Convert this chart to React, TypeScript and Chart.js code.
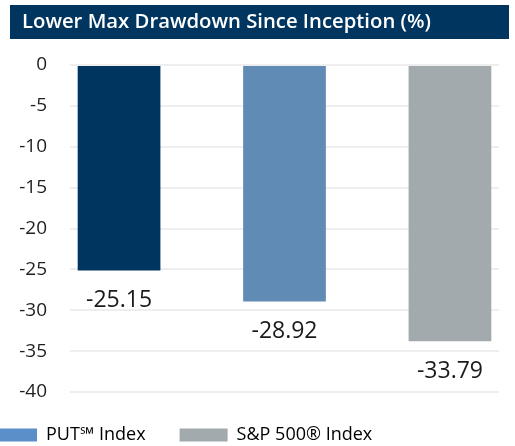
import { useEffect, useRef } from 'react';
import { Chart, registerables } from 'chart.js';

Chart.register(...registerables);

const TITLE = 'Lower Max Drawdown Since Inception (%)';
const CATEGORIES = ['Max Drawdown'];
const SERIES_NAMES = ['Fund', 'PUT℠ Index', 'S&P 500® Index'];
const SERIES_VALUES = [-25.15, -28.92, -33.79];
const SERIES_COLORS = ['#00355f', '#5f8bb5', '#a2aaad'];
const LEGEND_COLORS = ['#00355f', '#5b8fc9', '#a2aaad'];
const LEGEND_SHOWN = [false, true, true];
const Y_MIN = -40;
const Y_MAX = 0;
const Y_STEP = 5;

const FONT = '"Open Sans", "Noto Sans", sans-serif';
const NAVY = '#00355f';

// canvas is shifted left so the (cropped) legend starts outside the view
const SHIFT = 45;
const CANVAS_W = 560;
const CANVAS_H = 454;

const bannerPlugin = {
  id: 'banner',
  beforeDraw(chart: any) {
    const ctx = chart.ctx;
    ctx.save();
    ctx.fillStyle = NAVY;
    ctx.fillRect(SHIFT + 10, 5, 499, 34);
    ctx.fillStyle = '#ffffff';
    ctx.font = `600 20.3px ${FONT}`;
    ctx.textAlign = 'left';
    ctx.textBaseline = 'middle';
    ctx.fillText(TITLE, SHIFT + 22, 22.5);
    ctx.restore();
  },
};

const valueLabelPlugin = {
  id: 'valueLabels',
  afterDatasetsDraw(chart: any) {
    const ctx = chart.ctx;
    ctx.save();
    ctx.fillStyle = '#1a1a1a';
    ctx.font = `23px ${FONT}`;
    ctx.textAlign = 'center';
    ctx.textBaseline = 'middle';
    chart.data.datasets.forEach((ds: any, i: number) => {
      const meta = chart.getDatasetMeta(i);
      meta.data.forEach((bar: any, j: number) => {
        const v = ds.data[j] as number;
        ctx.fillText(v.toFixed(2), bar.x, bar.y + 30);
      });
    });
    ctx.restore();
  },
};

export default function App() {
  const ref = useRef<HTMLCanvasElement | null>(null);

  useEffect(() => {
    if (!ref.current) return;
    const chart = new Chart(ref.current, {
      type: 'bar',
      data: {
        labels: CATEGORIES,
        datasets: SERIES_NAMES.map((name, i) => ({
          label: name,
          data: [SERIES_VALUES[i]],
          backgroundColor: SERIES_COLORS[i],
          borderWidth: 0,
          categoryPercentage: 1.157,
          barPercentage: 0.5,
        })),
      },
      options: {
        responsive: false,
        animation: false,
        layout: { padding: { top: 65, right: 16, left: 0, bottom: 0 } },
        scales: {
          x: { display: false, offset: true },
          y: {
            min: Y_MIN,
            max: Y_MAX,
            ticks: {
              stepSize: Y_STEP,
              padding: 23,
              color: '#1f1f1f',
              font: { family: FONT, size: 19 },
            },
            grid: { color: '#eeeeee', lineWidth: 2, drawTicks: false },
            border: { display: false },
            afterFit(scale: any) {
              scale.width = 115;
            },
          },
        },
        plugins: {
          title: { display: false },
          tooltip: { enabled: false },
          legend: {
            position: 'bottom',
            align: 'start',
            labels: {
              boxWidth: 48,
              boxHeight: 13,
              padding: 34,
              color: '#2a2a2a',
              font: { family: FONT, size: 18 },
              generateLabels: () =>
                SERIES_NAMES.map((name, i) => ({
                  text: name,
                  fillStyle: LEGEND_COLORS[i],
                  strokeStyle: LEGEND_COLORS[i],
                  lineWidth: 0,
                  hidden: false,
                  datasetIndex: i,
                })).filter((_, i) => LEGEND_SHOWN[i]),
            },
          },
        },
      } as any,
      plugins: [bannerPlugin, valueLabelPlugin],
    });
    return () => chart.destroy();
  }, []);

  return (
    <div
      style={{
        position: 'fixed',
        left: 0,
        top: 0,
        width: 515,
        height: 446,
        overflow: 'hidden',
        background: '#ffffff',
      }}
    >
      <canvas
        ref={ref}
        width={CANVAS_W}
        height={CANVAS_H}
        style={{ position: 'absolute', left: -SHIFT, top: 0 }}
      />
    </div>
  );
}
